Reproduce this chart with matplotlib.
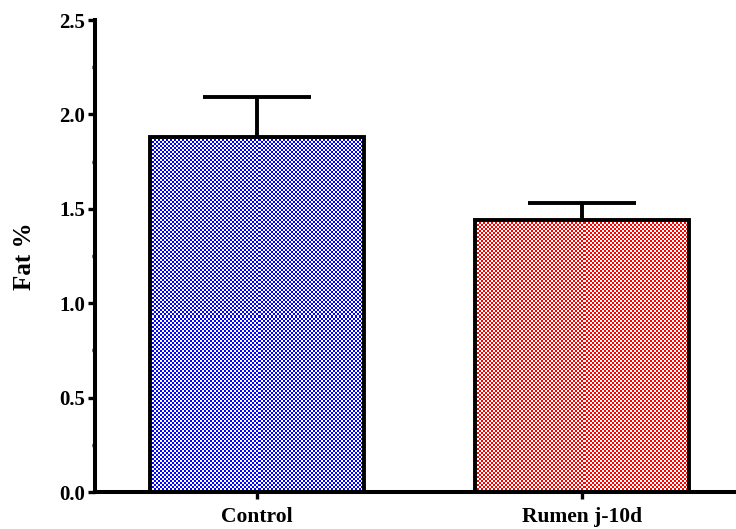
import numpy as np
import matplotlib
matplotlib.use("Agg")
import matplotlib.pyplot as plt
from matplotlib.colors import ListedColormap
from matplotlib.ticker import MultipleLocator, FormatStrFormatter

# Fat content per group (mean and upper SEM)
groups = ["Control", "Rumen j-10d"]
fat_mean = [1.88, 1.44]
fat_sem = [0.21, 0.09]
fill_colors = ["#0000ff", "#ff0000"]

plt.rcParams["font.family"] = ["Liberation Serif", "DejaVu Serif"]
plt.rcParams["font.weight"] = "bold"

fig = plt.figure(figsize=(7.36, 5.29), dpi=100)
ax = fig.add_axes([0.1284, 0.0699, 0.8832, 0.8922])

xpos = np.arange(len(groups))
ax.set_xlim(-0.5, 1.5)
ax.set_ylim(0, 2.5)

bars = ax.bar(xpos, fat_mean, width=0.66, facecolor="none",
              edgecolor="black", linewidth=2.8, zorder=3)

# checkerboard fill inside each bar (2 px cells)
for bar, col in zip(bars, fill_colors):
    x0, y0 = bar.get_x(), bar.get_y()
    w, h = bar.get_width(), bar.get_height()
    (px0, py0), (px1, py1) = ax.transData.transform([(x0, y0), (x0 + w, y0 + h)])
    nx = max(int(round((px1 - px0) / 2)), 1)
    ny = max(int(round((py1 - py0) / 2)), 1)
    checker = np.indices((ny, nx)).sum(axis=0) % 2
    im = ax.imshow(checker, cmap=ListedColormap(["white", col]),
                   extent=(x0, x0 + w, y0, y0 + h), aspect="auto",
                   interpolation="nearest", zorder=2)
    im.set_clip_path(bar)

# upper error bars only
eb = ax.errorbar(xpos, fat_mean, yerr=[np.zeros(len(fat_sem)), fat_sem],
                 fmt="none", ecolor="black", elinewidth=2.8,
                 capsize=39, capthick=2.8, zorder=4)
for cap in eb[1]:
    if np.allclose(cap.get_ydata(), fat_mean):
        cap.set_visible(False)

ax.set_xlim(-0.5, 1.5)
ax.set_ylim(0, 2.5)

for side in ["top", "right"]:
    ax.spines[side].set_visible(False)
for side in ["left", "bottom"]:
    ax.spines[side].set_linewidth(2.9)

ax.set_xticks(xpos)
ax.set_xticklabels(groups)
ax.yaxis.set_major_locator(MultipleLocator(0.5))
ax.yaxis.set_minor_locator(MultipleLocator(0.25))
ax.yaxis.set_major_formatter(FormatStrFormatter("%.1f"))

ax.tick_params(axis="y", which="major", direction="out", length=5, width=2.4,
               labelsize=15, pad=2)
ax.tick_params(axis="y", which="minor", direction="out", length=2.5, width=2.4)
ax.tick_params(axis="x", which="major", direction="out", length=5, width=2.4,
               labelsize=15.5, pad=6)

ax.set_ylabel("Fat %", fontsize=18, fontweight="bold")
ax.yaxis.set_label_coords(-0.09, 0.5)

fig.savefig("out.png", dpi=100)
